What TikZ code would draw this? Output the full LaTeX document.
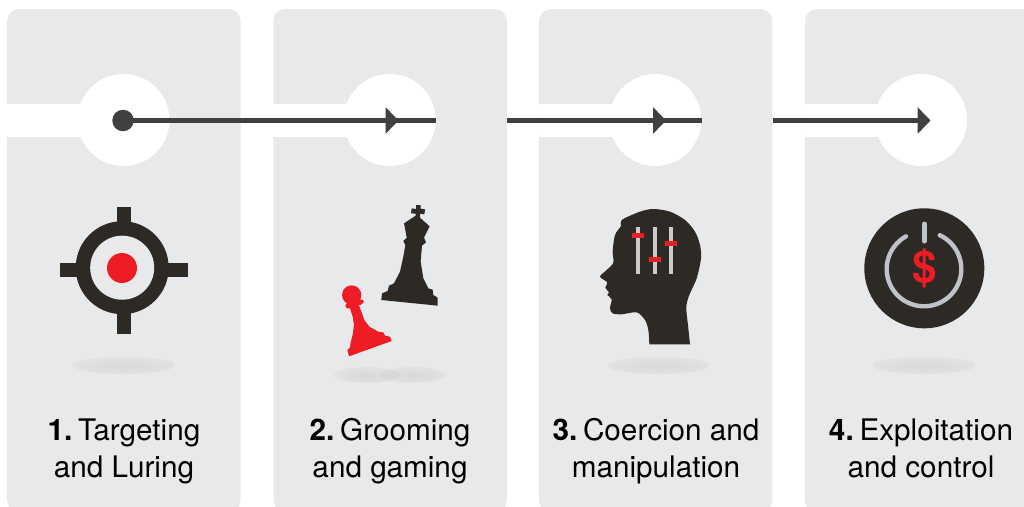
\documentclass[tikz,border=0pt]{standalone}
\usepackage{fontspec}
\setmainfont{TeX Gyre Heros}
\usetikzlibrary{arrows.meta}
\definecolor{paneltint}{HTML}{E8E9EB}
\definecolor{flowgrey}{HTML}{404040}
\definecolor{inkdark}{HTML}{2D2A26}
\definecolor{alertred}{HTML}{EE1C25}
\definecolor{slidergrey}{HTML}{CDCCCB}
\definecolor{powergrey}{HTML}{BFC3C9}
\newcommand{\stepno}[1]{\textbf{#1}\kern-2.5pt\ }
\tikzset{
  panel/.style={fill=paneltint, rounded corners=12pt, minimum width=233.5pt, minimum height=503pt, inner sep=0pt},
  hub/.style={circle, fill=white, minimum size=92pt, inner sep=0pt},
  flow/.style={draw=flowgrey, line width=5.5pt},
  flowtip/.style={flow, -{Triangle[length=13pt,width=26pt]}},
  ground/.style={inner color=black!40, outer color=black!22, opacity=.2},
  caption/.style={anchor=north, align=center, font=\fontsize{29.7}{37}\selectfont, inner sep=0pt},
}

\begin{document}
\begin{tikzpicture}[x=1pt, y=-1pt]
   \useasboundingbox (0,0) rectangle (1024,506);
   \clip (0,0) rectangle (1024,506);
   % Panels and white bands
   \node[panel] (p1) at (123.9,260.5) {};
   \node[panel] (p2) at (390,260.5) {};
   \node[panel] (p3) at (655.7,260.5) {};
   \node[panel] (p4) at (921.5,260.5) {};
   \fill[white] (7,104) rectangle (123,136.8);
   \fill[white] (273.3,104) rectangle (389,136.8);
   \fill[white] (539,104) rectangle (655,136.8);
   \fill[white] (804.7,104) rectangle (920,136.8);
   \node[hub] (h1) at (123.5,120) {};
   \node[hub] (h2) at (389.7,120) {};
   \node[hub] (h3) at (655.3,120) {};
   \node[hub] (h4) at (921,120) {};
   % Connect the stages with arrows
   \node[circle, fill=flowgrey, minimum size=21.5pt, inner sep=0pt] (dot) at (123,120.5) {};
   \coordinate (tip2) at (398.5,120.5);
   \coordinate (tip3) at (666,120.5);
   \coordinate (tip4) at (930.5,120.5);
   \coordinate (end2) at (h2.east |- tip2);
   \coordinate (end3) at (h3.east |- tip3);
   \coordinate (start2) at (p2.east |- tip2);
   \coordinate (start3) at (p3.east |- tip3);
   \draw[flow] (dot.center) -- (end2);
   \draw[flowtip] (dot.center) -- (tip2);
   \draw[flow] (start2) -- (end3);
   \draw[flowtip] (start2) -- (tip3);
   \draw[flowtip] (start3) -- (tip4);
   % Shadows on the floor
   \shade[ground] (123.5,365.5) ellipse [x radius=51, y radius=8.5];
   \shade[ground] (367,375) ellipse [x radius=33, y radius=8];
   \shade[ground] (413,375) ellipse [x radius=33, y radius=8];
   \shade[ground] (659,365.5) ellipse [x radius=51, y radius=8.5];
   \shade[ground] (924,365.5) ellipse [x radius=51, y radius=8.5];
   % Target
   \fill[inkdark] (117,207) rectangle (131,334);
   \fill[inkdark] (60,263) rectangle (188,277);
   \fill[inkdark] (122.2,267.7) circle [radius=46.5];
   \fill[paneltint] (122.2,267.7) circle [radius=32];
   \fill[alertred] (122,268) circle [radius=15];
   % King and pawn
   \begin{scope}[shift={(320,195)}, scale=1/3]
      \fill[inkdark] (288,30) -- (302,30) -- (302,41) -- (315,43) -- (313,58) -- (300,56) -- (300,68)
         -- (329,94) -- (312,128) -- (318,142) -- (306,152) -- (302,200) -- (310,250) -- (325,280)
         -- (338,284) -- (340,300) -- (353,308) -- (353,332) -- (184,315) -- (186,295) -- (203,288)
         -- (207,272) -- (222,265) -- (240,230) -- (250,185) -- (256,150) -- (250,138) -- (260,128)
         -- (255,100) -- (252,85) -- (287,62) -- (287,56) -- (273,55) -- (275,40) -- (288,42) -- cycle;
      \fill[alertred] (95,300) circle [radius=29];
      \fill[alertred] (125,313) -- (132,320) -- (125,328) -- (117,331) -- (124,350) -- (133,375)
         -- (148,395) -- (175,410) -- (190,412) -- (195,422) -- (210,425) -- (215,438) -- (87,484)
         -- (82,465) -- (90,457) -- (92,442) -- (98,420) -- (102,390) -- (98,365) -- (90,340)
         -- (80,340) -- (76,332) -- (82,322) -- cycle;
   \end{scope}
   % Head with sliders
   \begin{scope}[shift={(590,195)}, scale=1/3]
      \fill[inkdark] plot[smooth, tension=.5] coordinates {(300,448) (295,400) (289,340) (296,305)
         (320,250) (333,190) (330,150) (315,110) (285,75) (240,50) (190,42) (150,50) (95,75) (93,93)
         (75,120) (68,170) (70,203) (50,225) (30,245) (52,262) (46,278) (57,292) (52,300) (65,313)
         (60,340) (68,355) (95,358) (140,352) (165,375) (175,405) (178,448)} -- cycle;
      \fill[slidergrey] (138,96) rectangle (150,237);
      \fill[slidergrey] (189,96) rectangle (201,237);
      \fill[slidergrey] (237,96) rectangle (249,237);
      \fill[alertred] (126,114) rectangle (162,129);
      \fill[alertred] (177,186) rectangle (213,201);
      \fill[alertred] (225,138) rectangle (261,153);
   \end{scope}
   % Power button
   \fill[inkdark] (924.3,268.3) circle [radius=60];
   \draw[powergrey, line width=4.4pt, line cap=round] (924,269) ++(-65:37.3) arc [start angle=-65, end angle=241, radius=37.3];
   \draw[powergrey, line width=5pt, line cap=round] (924.3,224) -- (924.3,241);
   \node[text=alertred, font=\fontsize{44}{44}\selectfont\bfseries, inner sep=0pt] (dollar) at (924.3,268) {\$};
   % Captions
   \node[caption] (c1) at (124,418.5) {\stepno{1.}Targeting\\and Luring};
   \node[caption] (c2) at (390,418.5) {\stepno{2.}Grooming\\and gaming};
   \node[caption] (c3) at (656,418.5) {\stepno{3.}Coercion and\\manipulation};
   \node[caption] (c4) at (921,418.5) {\stepno{4.}Exploitation\\and control};
\end{tikzpicture}
\end{document}
